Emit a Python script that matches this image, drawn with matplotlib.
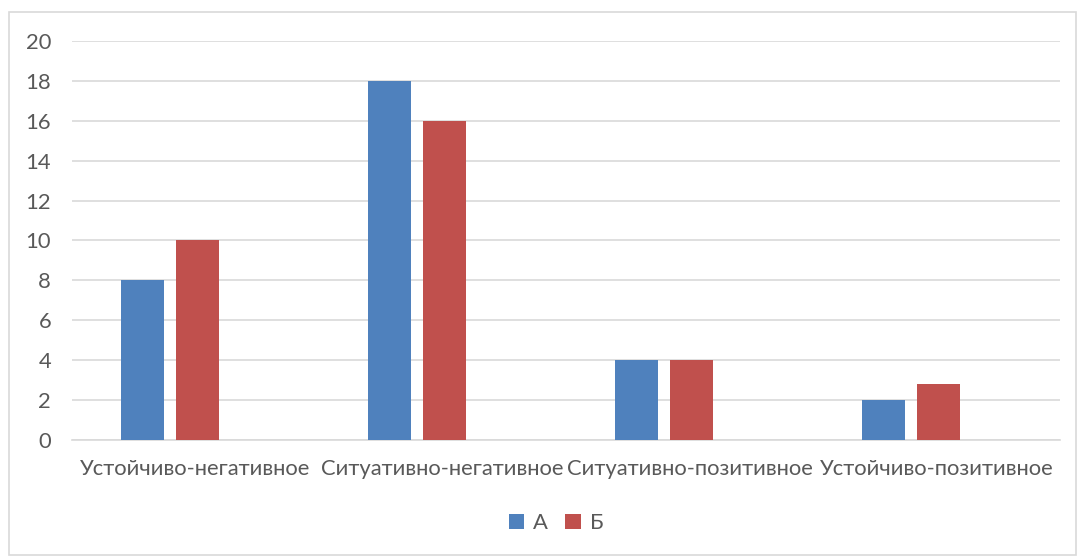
import matplotlib.pyplot as plt
from matplotlib.patches import Rectangle
import numpy as np

# data
categories = ['Устойчиво-негативное', 'Ситуативно-негативное',
              'Ситуативно-позитивное', 'Устойчиво-позитивное']
series_a = [8, 18, 4, 2]
series_b = [10, 16, 4, 2.8]
yticks = [0, 2, 4, 6, 8, 10, 12, 14, 16, 18, 20]

plt.rcParams['font.family'] = ['Lato', 'DejaVu Sans']

fig = plt.figure(figsize=(10.78, 5.56), dpi=100)
ax = fig.add_axes([72/1078, 116/556, 988/1078, 399/556])

x = np.arange(len(categories))
w = 0.174
ax.bar(x - 0.215, series_a, width=w, color='#4F81BD', label='А', zorder=3)
ax.bar(x + 0.007, series_b, width=w, color='#C0504D', label='Б', zorder=3)

ax.set_xlim(-0.5, len(categories) - 0.5)
ax.set_ylim(0, 20)
ax.set_yticks(yticks)
ax.yaxis.grid(True, color='#d9d9d9', linewidth=1.2, zorder=0)
ax.set_xticks(x)
ax.set_xticklabels(categories)
ax.tick_params(axis='both', length=0, labelsize=15.8, colors='#595959')
ax.tick_params(axis='x', pad=14)
ax.tick_params(axis='y', pad=15)
for s in ['top', 'left', 'right']:
    ax.spines[s].set_visible(False)
ax.spines['bottom'].set_color('#d9d9d9')
ax.spines['bottom'].set_linewidth(1.2)

fig.legend(loc='center', bbox_to_anchor=(556/1078, 1 - 523/556), ncol=2, frameon=False,
           fontsize=15.8, handlelength=0.7, handleheight=0.7, handletextpad=0.4,
           columnspacing=0.8, labelcolor='#595959')

# outer chart frame
fig.patches.append(Rectangle((9/1078, 0.002), 1 - 9/1078 - 0.002, 1 - 12/556 - 0.002,
                             transform=fig.transFigure, fill=False,
                             edgecolor='#d9d9d9', linewidth=1.2))

fig.savefig('out.png', dpi=100)
